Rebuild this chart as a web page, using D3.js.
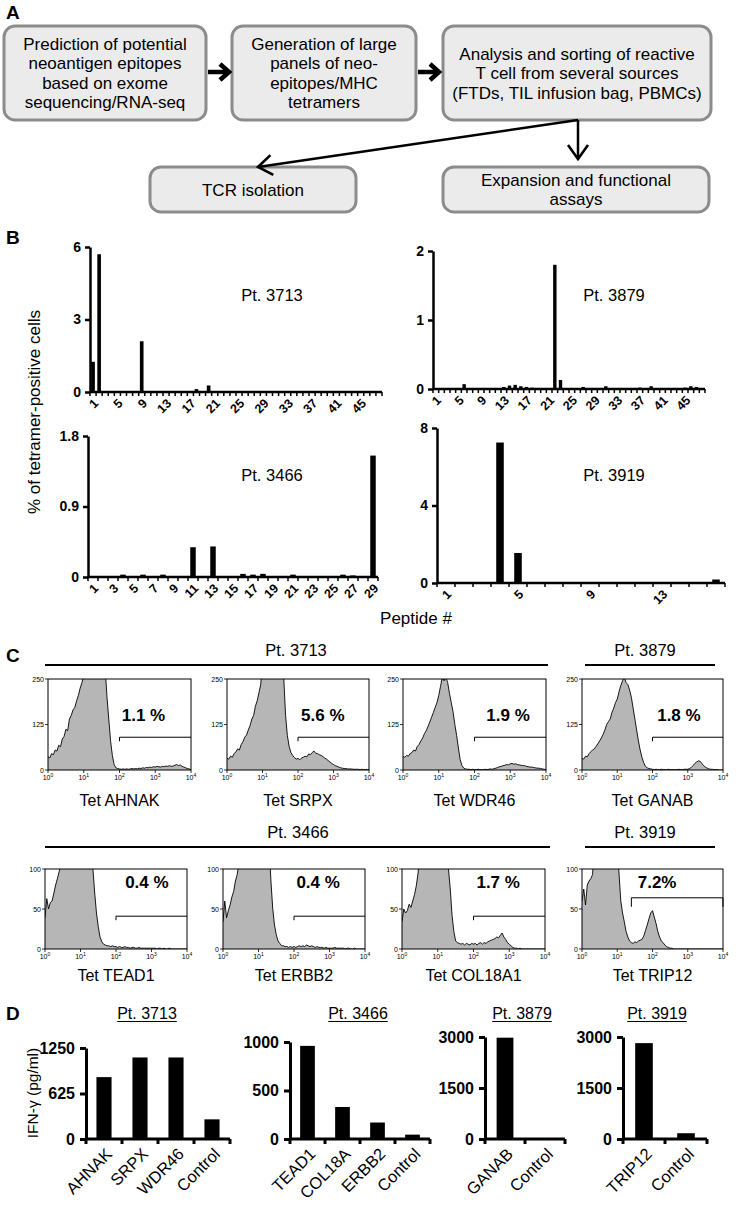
<!DOCTYPE html>
<html>
<head>
<meta charset="utf-8">
<script src="https://cdn.jsdelivr.net/npm/d3@7"></script>
<style>
  body { margin: 0; background: #fff; }
  text { font-family: "Liberation Sans", Arial, Helvetica, sans-serif; }
</style>
</head>
<body>
<svg id="fig" width="738" height="1206"></svg>
<script>
// ---- Panel A: workflow boxes ----
var flowSteps = [
  ['Prediction of potential', 'neoantigen epitopes', 'based on exome', 'sequencing/RNA-seq'],
  ['Generation of large', 'panels of neo-', 'epitopes/MHC', 'tetramers'],
  ['Analysis and sorting of reactive', 'T cell from several sources', '(FTDs, TIL infusion bag, PBMCs)'],
  ['TCR isolation'],
  ['Expansion and functional', 'assays']
];

// ---- Panel B: % tetramer-positive cells per peptide ----
var peptides48 = d3.range(1, 49);
var peptides29 = d3.range(1, 30);
var peptides16 = d3.range(1, 17);
var tet3713 = [1.25, 5.7, 0.01, 0, 0.01, 0, 0.01, 0, 2.1, 0.01,
  0, 0.01, 0, 0.01, 0, 0.01, 0, 0.12, 0.01, 0.27,
  0.04, 0, 0.01, 0, 0.01, 0, 0.01, 0, 0.01, 0,
  0.01, 0, 0.01, 0, 0.01, 0, 0.01, 0, 0.01, 0,
  0.01, 0, 0.01, 0, 0.01, 0, 0.01, 0];
var tet3879 = [0.01, 0, 0.01, 0, 0.01, 0.07, 0.01, 0, 0.01, 0,
  0.01, 0.01, 0.03, 0.05, 0.06, 0.04, 0.03, 0.02, 0.01, 0,
  0.01, 1.8, 0.13, 0.01, 0.01, 0, 0.03, 0.01, 0.01, 0,
  0.04, 0.01, 0.01, 0, 0.01, 0.01, 0.02, 0.01, 0.04, 0.01,
  0.01, 0, 0.01, 0.01, 0.02, 0.04, 0.03, 0];
var tet3466 = [0.01, 0.01, 0.01, 0.03, 0.01, 0.03, 0.01, 0.03, 0.01, 0.01,
  0.38, 0.01, 0.39, 0.01, 0.01, 0.04, 0.03, 0.04, 0.01, 0.01,
  0.03, 0.01, 0.01, 0.01, 0.01, 0.03, 0.02, 0.01, 1.55];
var tet3919 = [0, 0, 0, 7.25, 1.55, 0, 0, 0.04, 0, 0, 0, 0, 0.03, 0, 0, 0.18];
var peptideTicks48 = [1, 5, 9, 13, 17, 21, 25, 29, 33, 37, 41, 45];
var peptideTicks29 = [1, 3, 5, 7, 9, 11, 13, 15, 17, 19, 21, 23, 25, 27, 29];
var peptideTicks16 = [1, 5, 9, 13];

// ---- Panel C: flow histograms (counts per 0.05 decade, 10^0 .. 10^4) ----
var binStep = 0.05;
var flowNames = ['Tet AHNAK', 'Tet SRPX', 'Tet WDR46', 'Tet GANAB', 'Tet TEAD1', 'Tet ERBB2', 'Tet COL18A1', 'Tet TRIP12'];
var flowPercents = ['1.1 %', '5.6 %', '1.9 %', '1.8 %', '0.4 %', '0.4  %', '1.7 %', '7.2%'];
var gateLevels = [90, 90, 90, 90, 41, 41, 41, 64];
var gateStarts = [2, 2, 2, 2, 2, 2, 2, 1.4];
var countsAHNAK = [37, 33, 45, 42, 55, 52, 68, 64, 85, 92, 112, 108, 140, 150, 165, 172, 190, 205, 225, 240,
  260, 300, 300, 300, 300, 300, 300, 300, 300, 300, 300, 300, 280, 200, 140, 80, 40, 15, 6, 4,
  3, 2, 3, 2, 3, 2, 3, 4, 3, 4, 3, 5, 4, 6, 5, 7, 6, 8, 7, 9,
  8, 10, 9, 8, 10, 9, 11, 10, 12, 10, 11, 13, 15, 12, 14, 10, 8, 6, 4, 3, 1];
var countsSRPX = [32, 30, 38, 35, 45, 50, 58, 55, 70, 78, 90, 96, 110, 122, 140, 150, 175, 190, 212, 235,
  300, 300, 300, 300, 300, 300, 300, 300, 300, 300, 300, 300, 250, 150, 95, 65, 48, 40, 34, 30,
  32, 28, 33, 35, 38, 36, 44, 42, 48, 52, 46, 45, 42, 40, 37, 33, 30, 26, 22, 18,
  15, 12, 10, 8, 6, 5, 4, 4, 3, 3, 3, 2, 2, 2, 2, 1, 2, 1, 1, 1, 1];
var countsWDR46 = [37, 35, 40, 38, 45, 48, 55, 52, 65, 70, 80, 88, 100, 108, 120, 132, 145, 158, 172, 185,
  205, 230, 255, 245, 255, 240, 210, 185, 160, 125, 95, 60, 28, 12, 5, 3, 2, 2, 1, 2,
  1, 1, 2, 1, 1, 1, 2, 1, 2, 3, 2, 4, 5, 7, 9, 10, 12, 13, 15, 14,
  17, 18, 16, 17, 15, 14, 13, 12, 12, 10, 9, 8, 8, 7, 6, 5, 5, 4, 3, 2, 1];
var countsGANAB = [32, 30, 38, 36, 45, 50, 55, 58, 65, 72, 80, 88, 98, 110, 125, 133, 140, 158, 170, 185,
  195, 215, 232, 245, 255, 240, 235, 220, 200, 170, 140, 110, 80, 55, 35, 20, 10, 6, 4, 3,
  2, 1, 2, 1, 1, 2, 1, 1, 1, 2, 1, 1, 1, 1, 1, 2, 1, 1, 2, 2,
  2, 4, 7, 12, 18, 22, 25, 24, 18, 12, 8, 5, 3, 2, 2, 1, 1, 1, 0, 0, 0];
var countsTEAD1 = [39, 63, 50, 58, 60, 70, 80, 88, 97, 105, 130, 130, 130, 130, 130, 130, 130, 130, 130, 130,
  130, 130, 130, 130, 130, 130, 130, 100, 70, 45, 28, 15, 9, 6, 5, 4, 4, 3, 4, 3,
  3, 2, 3, 2, 2, 3, 2, 2, 1, 2, 2, 1, 1, 2, 1, 1, 1, 1, 1, 1,
  1, 1, 1, 0, 1, 1, 0, 1, 0, 0, 1, 0, 0, 0, 0, 0, 0, 0, 0, 0, 0];
var countsERBB2 = [34, 60, 39, 48, 55, 65, 72, 85, 93, 108, 130, 130, 130, 130, 130, 130, 130, 130, 130, 130,
  130, 130, 130, 130, 130, 130, 130, 85, 51, 30, 18, 10, 7, 4, 4, 3, 3, 2, 3, 2,
  3, 2, 3, 4, 3, 4, 3, 5, 4, 3, 4, 3, 2, 3, 2, 2, 2, 1, 2, 1,
  1, 1, 1, 2, 1, 1, 1, 1, 1, 0, 1, 1, 0, 0, 1, 0, 0, 0, 0, 0, 0];
var countsCOL18A1 = [34, 50, 45, 48, 56, 52, 60, 68, 79, 95, 130, 130, 130, 130, 130, 130, 130, 130, 130, 130,
  130, 130, 130, 130, 130, 130, 100, 75, 42, 22, 10, 8, 7, 6, 7, 5, 7, 6, 5, 7,
  6, 7, 5, 7, 8, 6, 8, 7, 9, 10, 11, 12, 13, 15, 14, 17, 20, 15, 12, 8,
  6, 4, 2, 1, 1, 0, 1, 0, 0, 0, 0, 0, 0, 0, 0, 0, 0, 0, 0, 0, 0];
var countsTRIP12 = [60, 75, 55, 80, 85, 88, 93, 130, 130, 130, 130, 130, 130, 130, 130, 130, 130, 130, 130, 130,
  130, 95, 60, 45, 34, 22, 15, 10, 8, 7, 9, 8, 10, 11, 12, 16, 23, 30, 38, 45,
  48, 40, 32, 22, 15, 10, 8, 5, 3, 2, 1, 1, 0, 0, 0, 0, 0, 0, 0, 0,
  0, 0, 0, 0, 0, 0, 0, 0, 0, 0, 0, 0, 0, 0, 0, 0, 0, 0, 0, 0, 0];
var flowCounts = [countsAHNAK, countsSRPX, countsWDR46, countsGANAB, countsTEAD1, countsERBB2, countsCOL18A1, countsTRIP12];

// ---- Panel D: IFN-gamma release ----
var ifnLabels3713 = ['AHNAK', 'SRPX', 'WDR46', 'Control'];
var ifn3713 = [850, 1120, 1120, 270];
var ifnLabels3466 = ['TEAD1', 'COL18A', 'ERBB2', 'Control'];
var ifn3466 = [960, 330, 170, 45];
var ifnLabels3879 = ['GANAB', 'Control'];
var ifn3879 = [2980, 10];
var ifnLabels3919 = ['TRIP12', 'Control'];
var ifn3919 = [2820, 170];

var svg = d3.select('#fig');
var defs = svg.append('defs');
svg.append('rect').attr('width', 738).attr('height', 1206).attr('fill', '#fff');

function panelLetter(t, x, y) {
  svg.append('text').attr('x', x).attr('y', y).attr('font-size', 19).attr('font-weight', 'bold').text(t);
}

// ================= Panel A =================
panelLetter('A', 6, 19);

var boxFrames = [
  { x: 4, y: 26, w: 202, h: 94 },
  { x: 232, y: 26, w: 184, h: 94 },
  { x: 443, y: 26, w: 268, h: 94 },
  { x: 150, y: 167, w: 206, h: 45 },
  { x: 443, y: 167, w: 266, h: 45 }
];

boxFrames.forEach(function (b, i) {
  svg.append('rect')
    .attr('x', b.x).attr('y', b.y).attr('width', b.w).attr('height', b.h)
    .attr('rx', 11).attr('fill', '#ebebeb').attr('stroke', '#8c8c8c').attr('stroke-width', 3);
  var lines = flowSteps[i];
  var cy = b.y + b.h / 2;
  lines.forEach(function (line, j) {
    svg.append('text')
      .attr('x', b.x + b.w / 2)
      .attr('y', cy + (j - (lines.length - 1) / 2) * 19.5 + 6)
      .attr('text-anchor', 'middle').attr('font-size', 17)
      .text(line);
  });
});

// fat arrows between the top boxes
function fatArrow(xa, xb, y) {
  svg.append('path').attr('d', 'M' + xa + ',' + y + 'H' + (xb - 3))
    .attr('stroke', '#000').attr('stroke-width', 4.5);
  svg.append('path')
    .attr('d', 'M' + (xb - 9) + ',' + (y - 8) + 'L' + xb + ',' + y + 'L' + (xb - 9) + ',' + (y + 8))
    .attr('fill', 'none').attr('stroke', '#000').attr('stroke-width', 4.5);
}
fatArrow(208, 229, 72);
fatArrow(418, 439, 72);

defs.append('marker')
  .attr('id', 'chev').attr('viewBox', '-2 -2 18 24').attr('refX', 14).attr('refY', 10)
  .attr('markerWidth', 18).attr('markerHeight', 24).attr('markerUnits', 'userSpaceOnUse').attr('orient', 'auto')
  .append('path').attr('d', 'M0,0L14,10L0,20').attr('fill', 'none').attr('stroke', '#000').attr('stroke-width', 2.6);

svg.append('line').attr('x1', 578).attr('y1', 120).attr('x2', 578).attr('y2', 159)
  .attr('stroke', '#000').attr('stroke-width', 2.5).attr('marker-end', 'url(#chev)');
svg.append('line').attr('x1', 578).attr('y1', 120).attr('x2', 258).attr('y2', 167)
  .attr('stroke', '#000').attr('stroke-width', 2.5).attr('marker-end', 'url(#chev)');

// ================= Panel B =================
panelLetter('B', 6, 244);

function drawPeptideChart(cfg) {
  var x = d3.scaleBand().domain(cfg.peptides).range([cfg.left, cfg.right]);
  var y = d3.scaleLinear().domain([0, cfg.max]).range([cfg.zero, cfg.top]);
  var bw = x.bandwidth();
  var g = svg.append('g');

  g.selectAll('rect.bar').data(cfg.values).enter().append('rect')
    .attr('class', 'bar')
    .attr('x', function (d, i) { return x(cfg.peptides[i]) + bw * (1 - cfg.barFrac) / 2; })
    .attr('y', function (d) { return y(d); })
    .attr('width', bw * cfg.barFrac)
    .attr('height', function (d) { return y(0) - y(d); })
    .attr('fill', '#000');

  // x axis, a tick at every band edge
  g.append('line').attr('x1', cfg.left).attr('x2', cfg.right).attr('y1', y(0)).attr('y2', y(0))
    .attr('stroke', '#000').attr('stroke-width', 2.5);
  var edges = cfg.peptides.map(function (p) { return x(p); }).concat([cfg.right]);
  g.selectAll('line.xt').data(edges).enter().append('line')
    .attr('class', 'xt')
    .attr('x1', function (d) { return d; }).attr('x2', function (d) { return d; })
    .attr('y1', y(0)).attr('y2', y(0) + 4)
    .attr('stroke', '#000').attr('stroke-width', 1.5);
  g.selectAll('text.xl').data(cfg.tickLabels).enter().append('text')
    .attr('class', 'xl')
    .attr('transform', function (d) {
      return 'translate(' + (x(d) + bw / 2 + 3) + ',' + (y(0) + 9) + ') rotate(-45)';
    })
    .attr('text-anchor', 'end').attr('dy', '0.35em')
    .attr('font-size', 12.5).attr('font-weight', 'bold')
    .text(function (d) { return d; });

  var ya = g.append('g').attr('transform', 'translate(' + cfg.left + ',0)')
    .call(d3.axisLeft(y).tickValues(cfg.yTicks).tickSize(5).tickSizeOuter(0).tickPadding(4)
      .tickFormat(function (d, i) { return cfg.yTickLabels[i]; }));
  ya.select('.domain').attr('stroke-width', 2.5);
  ya.selectAll('.tick line').attr('stroke-width', 2.5);
  ya.selectAll('.tick text').attr('font-size', 14).attr('font-weight', 'bold').attr('fill', '#000');

  g.append('text').attr('x', cfg.titleX).attr('y', cfg.titleY)
    .attr('text-anchor', 'middle').attr('font-size', 16.5).text(cfg.title);
}

drawPeptideChart({
  peptides: peptides48, values: tet3713, tickLabels: peptideTicks48,
  left: 90, right: 382, top: 247, zero: 392, max: 6,
  yTicks: [0, 3, 6], yTickLabels: ['0', '3', '6'], barFrac: 0.6,
  title: 'Pt. 3713', titleX: 272, titleY: 301
});
drawPeptideChart({
  peptides: peptides48, values: tet3879, tickLabels: peptideTicks48,
  left: 433, right: 705, top: 251, zero: 389, max: 2,
  yTicks: [0, 1, 2], yTickLabels: ['0', '1', '2'], barFrac: 0.6,
  title: 'Pt. 3879', titleX: 614, titleY: 301
});
drawPeptideChart({
  peptides: peptides29, values: tet3466, tickLabels: peptideTicks29,
  left: 88, right: 378, top: 436, zero: 577, max: 1.8,
  yTicks: [0, 0.9, 1.8], yTickLabels: ['0', '0.9', '1.8'], barFrac: 0.55,
  title: 'Pt. 3466', titleX: 272, titleY: 481
});
drawPeptideChart({
  peptides: peptides16, values: tet3919, tickLabels: peptideTicks16,
  left: 437, right: 725, top: 428, zero: 583, max: 8,
  yTicks: [0, 4, 8], yTickLabels: ['0', '4', '8'], barFrac: 0.42,
  title: 'Pt. 3919', titleX: 614, titleY: 481
});

svg.append('text').attr('transform', 'translate(40,412) rotate(-90)')
  .attr('text-anchor', 'middle').attr('font-size', 17).text('% of tetramer-positive cells');
svg.append('text').attr('x', 416).attr('y', 624)
  .attr('text-anchor', 'middle').attr('font-size', 17).text('Peptide #');

// ================= Panel C =================
panelLetter('C', 6, 662);

var flowFrames = [
  { x: 48, y: 679, w: 143, h: 91 }, { x: 227, y: 679, w: 142, h: 91 },
  { x: 403, y: 679, w: 143, h: 91 }, { x: 582, y: 679, w: 141, h: 91 },
  { x: 45, y: 869, w: 142, h: 80 }, { x: 223, y: 869, w: 142, h: 80 },
  { x: 402, y: 869, w: 143, h: 80 }, { x: 582, y: 869, w: 141, h: 80 }
];
var pctPos = [2.67, 2.7, 2.94, 2.75, 2.87, 2.68, 2.69, 2.13];

function drawFlow(i) {
  var f = flowFrames[i];
  var row2 = i >= 4;
  var ymax = row2 ? 100 : 250;
  var yTicks = row2 ? [0, 50, 100] : [0, 125, 250];
  var x = d3.scaleLinear().domain([0, 4]).range([f.x, f.x + f.w]);
  var y = d3.scaleLinear().domain([0, ymax]).range([f.y + f.h, f.y]);
  var counts = flowCounts[i];
  var clipId = 'flowclip' + i;
  defs.append('clipPath').attr('id', clipId).append('rect')
    .attr('x', f.x).attr('y', f.y).attr('width', f.w).attr('height', f.h);
  var g = svg.append('g');
  var area = d3.area()
    .x(function (d, j) { return x(j * binStep); })
    .y0(y(0))
    .y1(function (d) { return y(d); });
  var line = d3.line()
    .x(function (d, j) { return x(j * binStep); })
    .y(function (d) { return y(d); });
  g.append('path').datum(counts).attr('d', area).attr('fill', '#b6b6b6')
    .attr('clip-path', 'url(#' + clipId + ')');
  g.append('path').datum(counts).attr('d', line).attr('fill', 'none')
    .attr('stroke', '#000').attr('stroke-width', 0.9).attr('clip-path', 'url(#' + clipId + ')');
  g.append('rect').attr('x', f.x).attr('y', f.y).attr('width', f.w).attr('height', f.h)
    .attr('fill', 'none').attr('stroke', '#000').attr('stroke-width', 1);

  yTicks.forEach(function (t) {
    g.append('line').attr('x1', f.x - 3).attr('x2', f.x).attr('y1', y(t)).attr('y2', y(t))
      .attr('stroke', '#000').attr('stroke-width', 0.8);
    g.append('text').attr('x', f.x - 4).attr('y', y(t) + 2.5).attr('text-anchor', 'end')
      .attr('font-size', 7).text(t);
  });
  [0, 1, 2, 3, 4].forEach(function (k) {
    g.append('line').attr('x1', x(k)).attr('x2', x(k)).attr('y1', f.y + f.h).attr('y2', f.y + f.h + 3)
      .attr('stroke', '#000').attr('stroke-width', 0.8);
    var t = g.append('text').attr('x', x(k)).attr('y', f.y + f.h + 10)
      .attr('text-anchor', 'middle').attr('font-size', 7);
    t.append('tspan').text('10');
    t.append('tspan').attr('dy', -3).attr('font-size', 5).text(k);
  });

  // gate marker
  var gy = y(gateLevels[i]);
  var gx0 = x(gateStarts[i]);
  var gx1 = x(4);
  var tickLen = i === 7 ? 9 : 4;
  g.append('path')
    .attr('d', 'M' + gx0 + ',' + (gy + tickLen) + 'V' + gy + 'H' + gx1 + (i === 7 ? 'V' + (gy + tickLen) : ''))
    .attr('fill', 'none').attr('stroke', '#000').attr('stroke-width', 1);

  g.append('text').attr('x', x(pctPos[i])).attr('y', row2 ? f.y + 19 : f.y + 42)
    .attr('text-anchor', 'middle').attr('font-size', 17).attr('font-weight', 'bold')
    .text(flowPercents[i]);
  g.append('text').attr('x', f.x + f.w / 2).attr('y', row2 ? 981 : 806)
    .attr('text-anchor', 'middle').attr('font-size', 16).text(flowNames[i]);
}
d3.range(8).forEach(drawFlow);

var flowGroups = [
  { label: 'Pt. 3713', x1: 45, x2: 548, y: 665, cx: 296 },
  { label: 'Pt. 3879', x1: 585, x2: 715, y: 665, cx: 645 },
  { label: 'Pt. 3466', x1: 45, x2: 550, y: 847, cx: 298 },
  { label: 'Pt. 3919', x1: 585, x2: 715, y: 847, cx: 645 }
];
flowGroups.forEach(function (p) {
  svg.append('line').attr('x1', p.x1).attr('x2', p.x2).attr('y1', p.y).attr('y2', p.y)
    .attr('stroke', '#000').attr('stroke-width', 2.2);
  svg.append('text').attr('x', p.cx).attr('y', p.y - 9).attr('text-anchor', 'middle')
    .attr('font-size', 16.5).text(p.label);
});

// ================= Panel D =================
panelLetter('D', 6, 1020);

function drawIfnChart(cfg) {
  var x = d3.scaleBand().domain(cfg.labels).range([cfg.left, cfg.right]);
  var y = d3.scaleLinear().domain([0, cfg.max]).range([cfg.zero, cfg.top]);
  var bw = x.bandwidth();
  var g = svg.append('g');

  g.selectAll('rect.bar').data(cfg.values).enter().append('rect')
    .attr('class', 'bar')
    .attr('x', function (d, i) { return x(cfg.labels[i]) + bw * 0.29; })
    .attr('y', function (d) { return y(d); })
    .attr('width', bw * 0.42)
    .attr('height', function (d) { return y(0) - y(d); })
    .attr('fill', '#000');

  g.append('line').attr('x1', cfg.left).attr('x2', cfg.right).attr('y1', y(0)).attr('y2', y(0))
    .attr('stroke', '#000').attr('stroke-width', 3);
  var edges = cfg.labels.map(function (l) { return x(l); }).concat([cfg.right]);
  g.selectAll('line.xt').data(edges).enter().append('line')
    .attr('class', 'xt')
    .attr('x1', function (d) { return d; }).attr('x2', function (d) { return d; })
    .attr('y1', y(0)).attr('y2', y(0) + 5)
    .attr('stroke', '#000').attr('stroke-width', 3);
  g.selectAll('text.xl').data(cfg.labels).enter().append('text')
    .attr('class', 'xl')
    .attr('transform', function (d) {
      return 'translate(' + (x(d) + bw / 2 + 5) + ',' + (y(0) + 12) + ') rotate(-45)';
    })
    .attr('text-anchor', 'end').attr('dy', '0.35em').attr('font-size', 16.5)
    .text(function (d) { return d; });

  var ya = g.append('g').attr('transform', 'translate(' + cfg.left + ',0)')
    .call(d3.axisLeft(y).tickValues(cfg.yTicks).tickSize(6).tickSizeOuter(0).tickPadding(5)
      .tickFormat(function (d) { return d; }));
  ya.select('.domain').attr('stroke-width', 3);
  ya.selectAll('.tick line').attr('stroke-width', 3);
  ya.selectAll('.tick text').attr('font-size', 16).attr('font-weight', 'bold').attr('fill', '#000');

  var title = g.append('text').attr('x', cfg.titleX).attr('y', 1019)
    .attr('text-anchor', 'middle').attr('font-size', 16).text(cfg.title);
  var tw = title.node().getComputedTextLength();
  g.append('line').attr('x1', cfg.titleX - tw / 2).attr('x2', cfg.titleX + tw / 2)
    .attr('y1', 1021.5).attr('y2', 1021.5).attr('stroke', '#000').attr('stroke-width', 1.2);
}

drawIfnChart({ labels: ifnLabels3713, values: ifn3713, left: 86, right: 230, top: 1048, zero: 1139,
  max: 1250, yTicks: [0, 625, 1250], title: 'Pt. 3713', titleX: 147 });
drawIfnChart({ labels: ifnLabels3466, values: ifn3466, left: 290, right: 430, top: 1042, zero: 1139,
  max: 1000, yTicks: [0, 500, 1000], title: 'Pt. 3466', titleX: 358 });
drawIfnChart({ labels: ifnLabels3879, values: ifn3879, left: 485, right: 565, top: 1037, zero: 1139,
  max: 3000, yTicks: [0, 1500, 3000], title: 'Pt. 3879', titleX: 522 });
drawIfnChart({ labels: ifnLabels3919, values: ifn3919, left: 623, right: 707, top: 1037, zero: 1139,
  max: 3000, yTicks: [0, 1500, 3000], title: 'Pt. 3919', titleX: 657 });

svg.append('text').attr('transform', 'translate(38,1093) rotate(-90)')
  .attr('text-anchor', 'middle').attr('font-size', 15.5).text('IFN-\u03B3 (pg/ml)');
</script>
</body>
</html>
